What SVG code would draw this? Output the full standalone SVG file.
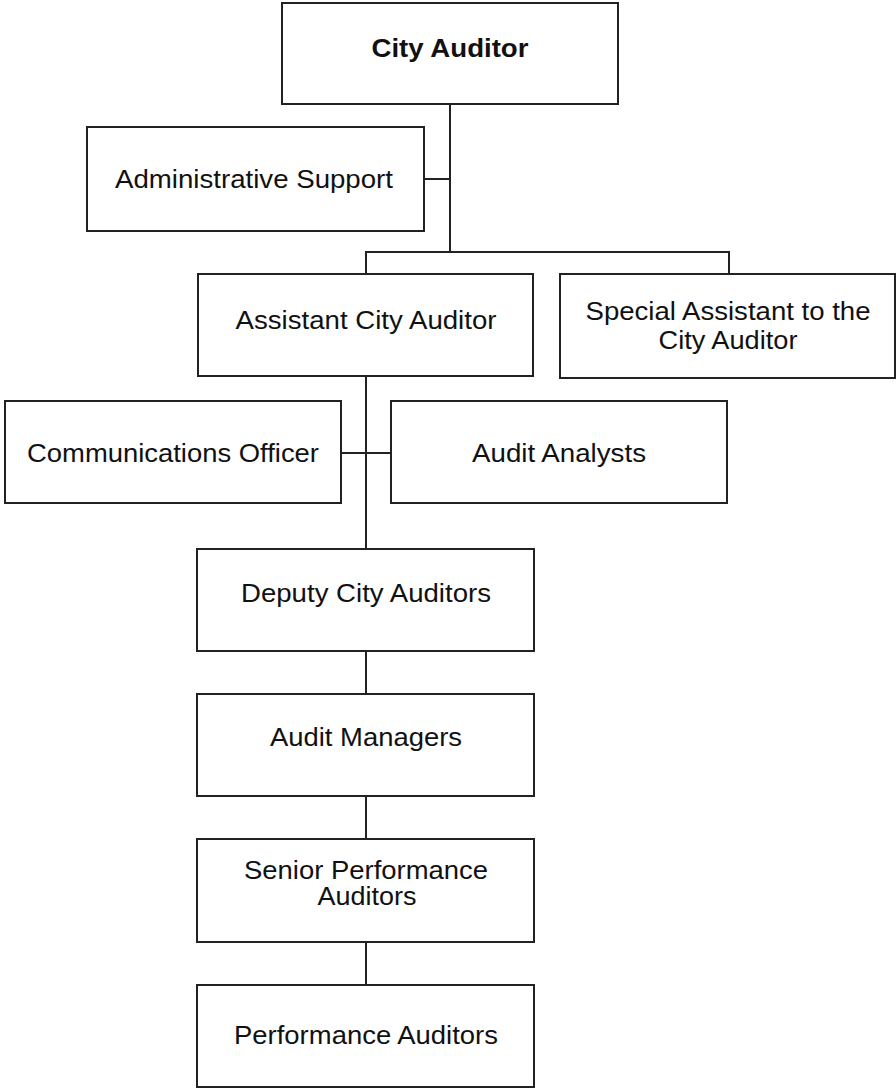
<svg xmlns="http://www.w3.org/2000/svg" width="896" height="1089" viewBox="0 0 896 1089">
<style>
.box{fill:#fff;stroke:#222;stroke-width:2}
.t{font-family:"Liberation Sans",Arial,sans-serif;font-size:25px;fill:#111;text-anchor:middle}
.b{font-weight:bold}
.c{fill:none;stroke:#222;stroke-width:2}
</style>
<rect width="896" height="1089" fill="#fff"/>
<g id="connectors">
<path class="c" d="M450 104V252M424 179H450M366 252H729M366 251V274M729 251V274M366 376V549M341 453H391M366 651V694M366 796V839M366 942V985"/>
</g>
<g id="city-auditor"><rect class="box" x="282" y="3" width="336" height="101"/><text class="t b" x="450" y="57" textLength="157" lengthAdjust="spacingAndGlyphs">City Auditor</text></g>
<g id="admin-support"><rect class="box" x="87" y="127" width="337" height="104"/><text class="t" x="254" y="188" textLength="278" lengthAdjust="spacingAndGlyphs">Administrative Support</text></g>
<g id="assistant-city-auditor"><rect class="box" x="198" y="274" width="335" height="102"/><text class="t" x="366" y="329" textLength="261" lengthAdjust="spacingAndGlyphs">Assistant City Auditor</text></g>
<g id="special-assistant"><rect class="box" x="560" y="274" width="335" height="104"/><text class="t" x="728" y="320" textLength="285" lengthAdjust="spacingAndGlyphs">Special Assistant to the</text><text class="t" x="728" y="349" textLength="139" lengthAdjust="spacingAndGlyphs">City Auditor</text></g>
<g id="communications-officer"><rect class="box" x="5" y="401" width="336" height="102"/><text class="t" x="173" y="462" textLength="292" lengthAdjust="spacingAndGlyphs">Communications Officer</text></g>
<g id="audit-analysts"><rect class="box" x="391" y="401" width="336" height="102"/><text class="t" x="559" y="462" textLength="174" lengthAdjust="spacingAndGlyphs">Audit Analysts</text></g>
<g id="deputy-city-auditors"><rect class="box" x="197" y="549" width="337" height="102"/><text class="t" x="366" y="602" textLength="250" lengthAdjust="spacingAndGlyphs">Deputy City Auditors</text></g>
<g id="audit-managers"><rect class="box" x="197" y="694" width="337" height="102"/><text class="t" x="366" y="746" textLength="192" lengthAdjust="spacingAndGlyphs">Audit Managers</text></g>
<g id="senior-performance-auditors"><rect class="box" x="197" y="839" width="337" height="103"/><text class="t" x="366" y="879" textLength="244" lengthAdjust="spacingAndGlyphs">Senior Performance</text><text class="t" x="367" y="905" textLength="99" lengthAdjust="spacingAndGlyphs">Auditors</text></g>
<g id="performance-auditors"><rect class="box" x="197" y="985" width="337" height="102"/><text class="t" x="366" y="1044" textLength="264" lengthAdjust="spacingAndGlyphs">Performance Auditors</text></g>
</svg>
